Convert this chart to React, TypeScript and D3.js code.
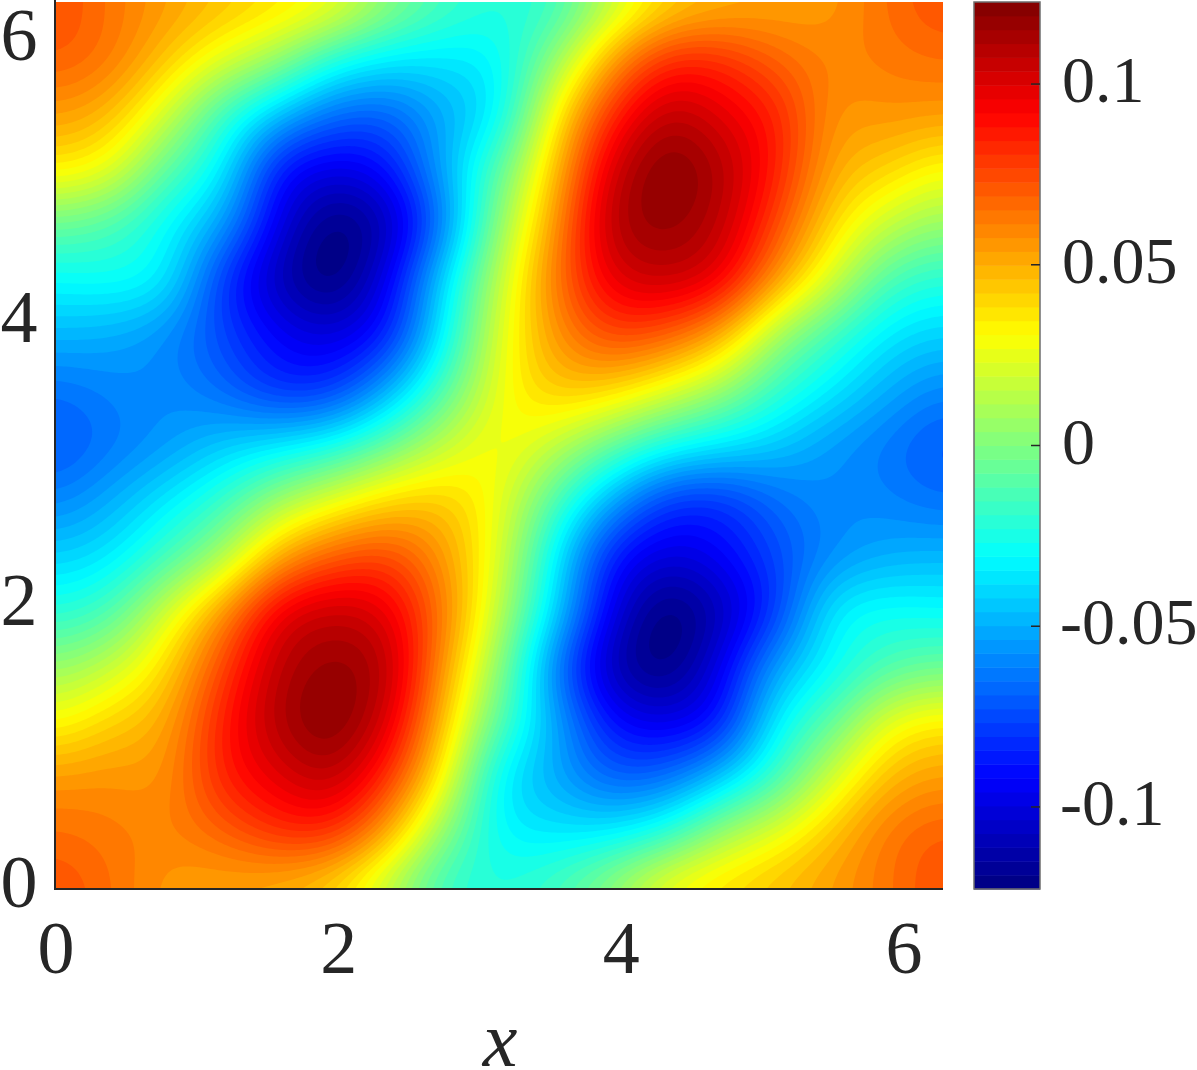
import React from "react";
import * as d3 from "d3";

const W = 1197, H = 1070;
// field samples; rows run from y=0 upward, columns from x=0 rightward
const field: number[][] = [
  [.074,.066,.055,.052,.047,.037,.012,-.018,-.022,-.013,.006,.031,.040,.047,.055,.064,.074],
  [.066,.063,.060,.068,.080,.080,.050,.003,-.030,-.035,-.033,-.020,.007,.025,.045,.063,.070],
  [.055,.057,.057,.084,.098,.107,.080,.030,-.032,-.050,-.068,-.065,-.043,-.015,.020,.047,.055],
  [.030,.042,.052,.085,.110,.121,.100,.045,-.010,-.050,-.088,-.097,-.085,-.033,-.008,.025,.035],
  [.005,.017,.040,.075,.107,.117,.108,.055,.003,-.060,-.108,-.122,-.096,-.053,-.030,-.012,-.005],
  [-.022,-.012,.020,.055,.095,.105,.097,.062,.015,-.040,-.095,-.124,-.108,-.078,-.035,-.028,-.030],
  [-.042,-.035,-.015,.010,.050,.070,.075,.055,.022,-.032,-.084,-.100,-.093,-.075,-.058,-.050,-.048],
  [-.060,-.050,-.035,-.018,.007,.025,.040,.043,.026,-.012,-.050,-.078,-.080,-.066,-.058,-.060,-.065],
  [-.072,-.063,-.055,-.044,-.036,-.026,-.006,.016,.030,.016,-.006,-.026,-.036,-.044,-.055,-.063,-.072],
  [-.065,-.060,-.058,-.066,-.080,-.078,-.050,-.012,.026,.043,.040,.025,.007,-.018,-.035,-.050,-.060],
  [-.048,-.050,-.058,-.075,-.093,-.100,-.084,-.032,.022,.055,.075,.070,.050,.010,-.015,-.035,-.042],
  [-.030,-.028,-.035,-.078,-.108,-.124,-.095,-.040,.015,.062,.097,.105,.095,.055,.020,-.012,-.022],
  [-.005,-.012,-.030,-.053,-.096,-.122,-.108,-.060,.003,.055,.108,.117,.107,.075,.040,.017,.005],
  [.035,.025,-.008,-.033,-.085,-.097,-.088,-.050,-.010,.045,.100,.121,.110,.085,.052,.042,.030],
  [.055,.047,.020,-.015,-.043,-.065,-.068,-.050,-.032,.030,.080,.107,.098,.084,.057,.057,.055],
  [.070,.063,.045,.025,.007,-.020,-.033,-.035,-.030,.003,.050,.080,.080,.068,.060,.063,.066],
  [.074,.064,.055,.047,.040,.031,.006,-.013,-.022,-.018,.012,.037,.047,.052,.055,.066,.074],
];
const axisTicks = [0, 2, 4, 6];
const barTicks = [0.1, 0.05, 0, -0.05, -0.1];
const barTickLabels = ["0.1", "0.05", "0", "-0.05", "-0.1"];
const xLabel = "x";
const domainMax = 2 * Math.PI;
const valueMin = -0.1227, valueMax = 0.1227;
const levelCount = 64;

const jet = (t: number) => {
  const c = (v: number) => Math.round(255 * Math.max(0, Math.min(1, v)));
  return `rgb(${c(1.5 - Math.abs(4 * t - 3))},${c(1.5 - Math.abs(4 * t - 2))},${c(1.5 - Math.abs(4 * t - 1))})`;
};

// Catmull-Rom resampling so that the contour bands are drawn smooth between samples
const cr = (a: number, b: number, c: number, d: number, t: number) =>
  0.5 * (2 * b + (c - a) * t + (2 * a - 5 * b + 4 * c - d) * t * t + (3 * b - a - 3 * c + d) * t * t * t);
const fine = 321;
const resample = (rows: number[][]) => {
  const m = rows.length;
  const at = (j: number, i: number) => {
    const jj = Math.max(0, Math.min(m - 1, j));
    const ii = Math.max(0, Math.min(m - 1, i));
    return rows[jj][ii];
  };
  const out = new Array(fine * fine);
  for (let r = 0; r < fine; r++) {
    const v = (r / (fine - 1)) * (m - 1);
    const j = Math.min(m - 2, Math.floor(v));
    const tv = v - j;
    for (let q = 0; q < fine; q++) {
      const u = (q / (fine - 1)) * (m - 1);
      const i = Math.min(m - 2, Math.floor(u));
      const tu = u - i;
      const col = [-1, 0, 1, 2].map((dj) =>
        cr(at(j + dj, i - 1), at(j + dj, i), at(j + dj, i + 1), at(j + dj, i + 2), tu)
      );
      out[r * fine + q] = cr(col[0], col[1], col[2], col[3], tv);
    }
  }
  d3.blur2({ data: out, width: fine, height: fine }, 7);
  return out;
};

export default function App() {
  const x = d3.scaleLinear().domain([0, domainMax]).range([55, 943]);
  const y = d3.scaleLinear().domain([0, domainMax]).range([889, 2]);
  const bar = d3.scaleLinear().domain([valueMin, valueMax]).range([889, 2]);
  const step = (valueMax - valueMin) / levelCount;
  const levels = d3.range(levelCount).map((k) => valueMin + k * step);
  const values = resample(field);
  const bands = d3.contours().size([fine, fine]).thresholds(levels.slice(1))(values);
  const toData = (c: number) => ((c - 0.5) / (fine - 1)) * domainMax;
  const path = d3.geoPath(
    d3.geoTransform({
      point(px: number, py: number) {
        (this as any).stream.point(x(toData(px)), y(toData(py)));
      },
    })
  );
  const ink = "#262626";
  const serif = "'Liberation Serif', serif";
  return (
    <svg width={W} height={H} style={{ position: "absolute", left: 0, top: 0 }} fontFamily={serif} fill={ink}>
      <defs>
        <clipPath id="plot">
          <rect x={55} y={2} width={888} height={887} />
        </clipPath>
      </defs>
      <g clipPath="url(#plot)">
        <rect x={55} y={2} width={888} height={887} fill={jet(0.5 / levelCount)} />
        {bands.map((b, k) => (
          <path key={k} d={path(b as any) || ""} fill={jet((k + 1.5) / levelCount)} />
        ))}
      </g>
      <path d="M55,0V889H943" fill="none" stroke={ink} strokeWidth={2} />
      {axisTicks.map((t) => (
        <text key={"y" + t} x={37.5} y={y(t) + 18} fontSize={74} textAnchor="end">{t}</text>
      ))}
      {axisTicks.map((t) => (
        <text key={"x" + t} x={x(t) + 1} y={973} fontSize={74} textAnchor="middle">{t}</text>
      ))}
      <text x={500} y={1066} fontSize={78} fontStyle="italic" textAnchor="middle">{xLabel}</text>
      {levels.map((l, k) => (
        <rect key={k} x={974} y={bar(l + step)} width={66} height={bar(l) - bar(l + step) + 0.5} fill={jet((k + 0.5) / levelCount)} />
      ))}
      <rect x={974} y={2} width={66} height={887} fill="none" stroke="#6e6e6e" strokeWidth={1.5} />
      {barTicks.map((t, k) => (
        <g key={k}>
          <line x1={1031} x2={1040} y1={bar(t)} y2={bar(t)} stroke={ink} strokeWidth={1.5} />
          <text x={t < 0 ? 1060 : 1062} y={bar(t) + 18} fontSize={66}>{barTickLabels[k]}</text>
        </g>
      ))}
    </svg>
  );
}
